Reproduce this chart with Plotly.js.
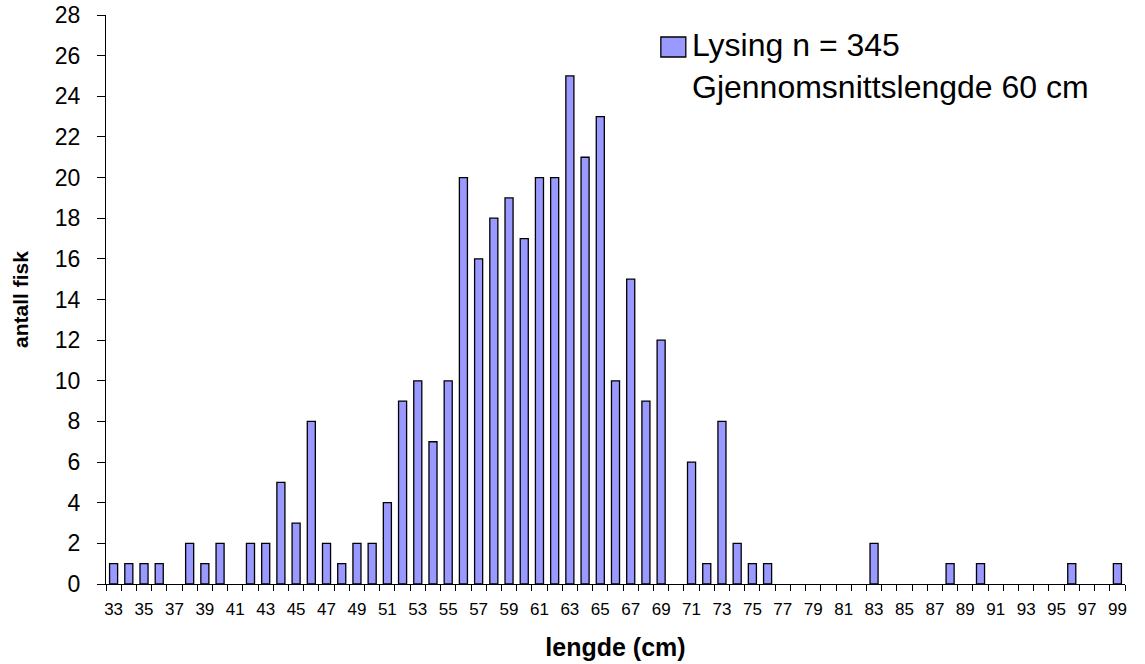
<!DOCTYPE html>
<html>
<head>
<meta charset="utf-8">
<script src="https://cdn.plot.ly/plotly-3.0.1.min.js"></script>
<style>html,body{margin:0;padding:0;background:#fff;}#chart{width:1145px;height:664px;}</style>
</head>
<body>
<div id="chart"></div>
<script>
const lengths = [33,34,35,36,38,39,40,42,43,44,45,46,47,48,49,50,51,52,53,54,55,56,57,58,59,60,61,62,63,64,65,66,67,68,69,71,72,73,74,75,76,83,88,90,96,99];
const counts  = [1,1,1,1,2,1,2,2,2,5,3,8,2,1,2,2,4,9,10,7,10,20,16,18,19,17,20,20,25,21,23,10,15,9,12,6,1,8,2,1,1,2,1,1,1,1];
const xTickLabels = [];
for (let v = 33; v <= 99; v += 2) xTickLabels.push(v);
const legendLines = ["Lysing n = 345", "Gjennomsnittslengde 60 cm"];
const xTitle = "lengde (cm)";
const yTitle = "antall fisk";

const font = "Arial, 'Liberation Sans', sans-serif";
const barColor = "#9999FF";

const trace = {
  type: "bar",
  x: lengths,
  y: counts,
  width: 0.53,
  name: legendLines.join(" "),
  showlegend: false,
  marker: {color: barColor, line: {color: "#000000", width: 1.3}}
};

const layout = {
  width: 1145, height: 664,
  margin: {l: 106, r: 20, t: 15, b: 80},
  paper_bgcolor: "#fff", plot_bgcolor: "#fff",
  font: {family: font, color: "#000"},
  bargap: 0,
  xaxis: {
    type: "linear",
    range: [32.5, 99.5],
    tickmode: "array",
    tickvals: xTickLabels,
    ticktext: xTickLabels.map(String),
    ticks: "",
    ticklabelstandoff: 10,
    tickfont: {size: 17, family: font},
    showline: true, linecolor: "#000", linewidth: 1,
    showgrid: false, zeroline: false,
    minor: {tickmode: "linear", tick0: 32.5, dtick: 1, ticks: "outside", ticklen: 6, tickcolor: "#000", showgrid: false},
    title: {text: "<b>" + xTitle + "</b>", font: {size: 25, family: font}, standoff: 20}
  },
  yaxis: {
    range: [0, 28],
    dtick: 2,
    ticks: "outside", ticklen: 8, tickcolor: "#000",
    ticklabelstandoff: 12,
    tickfont: {size: 23, family: font},
    showline: true, linecolor: "#000", linewidth: 1,
    showgrid: false, zeroline: false,
    title: {text: "<b>" + yTitle + "</b>", font: {size: 21, family: font}, standoff: 20}
  },
  showlegend: false,
  shapes: [{
    type: "rect", xref: "paper", yref: "paper",
    x0: 0.5445, x1: 0.569, y0: 0.9262, y1: 0.9613,
    fillcolor: barColor, line: {color: "#000", width: 1.3}
  }],
  annotations: [{
    xref: "paper", yref: "paper",
    x: 0.573, y: 0.982, xanchor: "left", yanchor: "top",
    align: "left", showarrow: false,
    text: legendLines.join("<br>"),
    font: {size: 32, family: font, color: "#000"}
  }]
};

Plotly.newPlot("chart", [trace], layout, {staticPlot: true});
</script>
</body>
</html>
